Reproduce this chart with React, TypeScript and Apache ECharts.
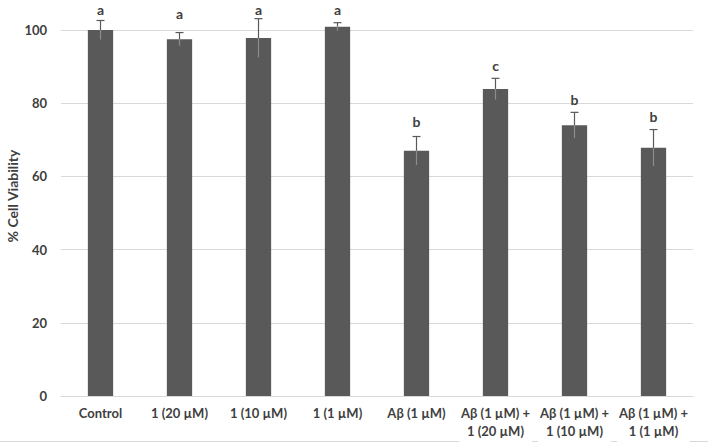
import React, { useEffect, useRef } from "react";
import * as echarts from "echarts";

const categories = [
  "Control",
  "1 (20 µM)",
  "1 (10 µM)",
  "1 (1 µM)",
  "Aβ (1 µM)",
  "Aβ (1 µM) +\n1 (20 µM)",
  "Aβ (1 µM) +\n1 (10 µM)",
  "Aβ (1 µM) +\n1 (1 µM)",
];
const viability = [100, 97.5, 97.8, 100.9, 67.0, 83.9, 74.0, 67.8];
const errors = [2.6, 1.8, 5.3, 1.1, 3.9, 2.9, 3.5, 5.0];
const letters = ["a", "a", "a", "a", "b", "c", "b", "b"];
const letterY = [105.7, 104.5, 105.7, 105.7, 74.9, 90.4, 81.1, 76.5];
const yTicks = [0, 20, 40, 60, 80, 100];

const FONT = "Lato, 'Open Sans', sans-serif";

export default function App() {
  const ref = useRef<HTMLDivElement>(null);
  useEffect(() => {
    if (!ref.current) return;
    const chart = echarts.init(ref.current, null, { renderer: "svg" });
    chart.setOption({
      animation: false,
      backgroundColor: "#ffffff",
      grid: { left: 61, right: 15, top: 30, bottom: 49, containLabel: false },
      xAxis: {
        type: "category",
        data: categories,
        axisLine: { show: true, lineStyle: { color: "#d9d9d9", width: 1 } },
        axisTick: { show: false },
        axisLabel: {
          interval: 0,
          margin: 8,
          color: "#404040",
          fontFamily: FONT,
          fontWeight: "bold",
          fontSize: 13,
          lineHeight: 18,
          backgroundColor: "#ffffff",
          padding: [0, 2, 2, 2],
        },
      },
      yAxis: {
        type: "value",
        min: yTicks[0],
        max: yTicks[yTicks.length - 1],
        interval: 20,
        axisLine: { show: false },
        axisTick: { show: false },
        splitLine: { lineStyle: { color: "#d9d9d9", width: 1 } },
        axisLabel: {
          margin: 14,
          color: "#404040",
          fontFamily: FONT,
          fontWeight: "bold",
          fontSize: 13,
        },
      },
      graphic: [
        {
          type: "line",
          z: -10,
          shape: { x1: 0, y1: 441.5, x2: 708, y2: 441.5 },
          style: { stroke: "#d9d9d9", lineWidth: 1 },
        },
        {
          type: "text",
          x: 12,
          y: 196,
          rotation: Math.PI / 2,
          style: {
            text: "% Cell Viability",
            fill: "#404040",
            font: `bold 14px ${FONT}`,
            textAlign: "center",
            textVerticalAlign: "middle",
          },
        },
      ],
      series: [
        {
          type: "bar",
          data: viability,
          barWidth: "32%",
          clip: false,
          itemStyle: { color: "#595959" },
        },
        {
          type: "custom",
          clip: false,
          data: viability.map((v, i) => [i, v, errors[i]]),
          renderItem: (params: any, api: any) => {
            const x = api.value(0);
            const v = api.value(1);
            const e = api.value(2);
            const top = api.coord([x, v + e]);
            const mid = api.coord([x, v]);
            const bot = api.coord([x, v - e]);
            const cap = 4;
            return {
              type: "group",
              children: [
                {
                  type: "line",
                  shape: { x1: top[0], y1: top[1], x2: mid[0], y2: mid[1] },
                  style: { stroke: "#595959", lineWidth: 1.2 },
                },
                {
                  type: "line",
                  shape: { x1: top[0] - cap, y1: top[1], x2: top[0] + cap, y2: top[1] },
                  style: { stroke: "#595959", lineWidth: 1.2 },
                },
                {
                  type: "line",
                  shape: { x1: mid[0], y1: mid[1], x2: bot[0], y2: bot[1] },
                  style: { stroke: "#8c8c8c", lineWidth: 1.2 },
                },
              ],
            };
          },
          z: 5,
        },
        {
          type: "custom",
          clip: false,
          data: letterY.map((y, i) => [i, y, letters[i]]),
          renderItem: (params: any, api: any) => {
            const p = api.coord([api.value(0), api.value(1)]);
            return {
              type: "text",
              x: p[0],
              y: p[1],
              style: {
                text: letters[params.dataIndex],
                fill: "#404040",
                font: `bold 14px ${FONT}`,
                textAlign: "center",
                textVerticalAlign: "middle",
              },
            };
          },
          z: 6,
        },
      ],
    });
    return () => chart.dispose();
  }, []);
  return (
    <div
      ref={ref}
      style={{ position: "fixed", left: 0, top: 0, width: 708, height: 445 }}
    />
  );
}
